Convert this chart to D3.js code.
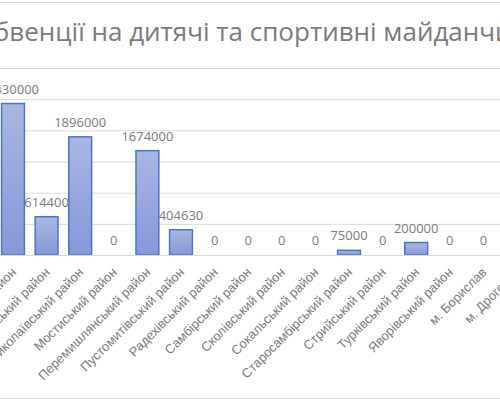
<!DOCTYPE html>
<html>
<head>
<meta charset="utf-8">
<script src="https://cdn.jsdelivr.net/npm/d3@7"></script>
<style>
  html, body { margin: 0; padding: 0; background: #fff; overflow: hidden; }
  svg { display: block; font-family: "Open Sans", sans-serif; }
</style>
</head>
<body>
<svg id="chart"></svg>
<script>
// chart data (the picture is a crop, so first/last categories run off the edges)
const districts = [
  "Жовківський район", "Золочівський район", "Миколаївський район", "Мостиський район",
  "Перемишлянський район", "Пустомитівський район", "Радехівський район", "Самбірський район",
  "Сколівський район", "Сокальський район", "Старосамбірський район", "Стрийський район",
  "Турківський район", "Яворівський район", "м. Борислав", "м. Дрогобич"
];
const amounts = [2430000, 614400, 1896000, 0, 1674000, 404630, 0, 0, 0, 0, 75000, 0, 200000, 0, 0, 0];
const yTicks = [0, 500000, 1000000, 1500000, 2000000, 2500000, 3000000];
const chartTitle = "Субвенції на дитячі та спортивні майданчики";

const data = districts.map((d, i) => ({ key: d, value: amounts[i] }));

const width = 500, height = 400;
const svg = d3.select('#chart')
  .attr('width', width)
  .attr('height', height);

// outer chart border (only top and bottom edges are visible in the crop)
svg.append('line').attr('x1', 0).attr('x2', width).attr('y1', 2.5).attr('y2', 2.5)
  .attr('stroke', '#d9d9d9').attr('stroke-width', 1);
svg.append('line').attr('x1', 0).attr('x2', width).attr('y1', 398.5).attr('y2', 398.5)
  .attr('stroke', '#d9d9d9').attr('stroke-width', 1);

svg.append('text')
  .attr('x', 253)
  .attr('y', 41)
  .attr('text-anchor', 'middle')
  .attr('font-size', '26px')
  .attr('fill', '#7a7a7a')
  .text(chartTitle);

const plotLeft = -3.8, plotRight = 533.8;

const xScale = d3.scaleBand()
  .domain(districts)
  .range([plotLeft, plotRight])
  .paddingInner(0.32)
  .paddingOuter(0.16);

const yScale = d3.scaleLinear()
  .domain([0, 3000000])
  .range([255, 68]);

// gridlines (value labels of this axis are outside the cropped area)
const yAxis = d3.axisLeft(yScale)
  .tickValues(yTicks)
  .tickSize(-(plotRight - plotLeft))
  .tickFormat(() => '');

const yAxisG = svg.append('g')
  .attr('transform', `translate(${plotLeft},0)`)
  .call(yAxis);
yAxisG.select('.domain').remove();
yAxisG.selectAll('line').attr('stroke', '#d9d9d9').attr('stroke-width', 1);

// bar gradient
const defs = svg.append('defs');
const grad = defs.append('linearGradient')
  .attr('id', 'barFill')
  .attr('x1', 0).attr('y1', 0).attr('x2', 0).attr('y2', 1);
grad.append('stop').attr('offset', '0%').attr('stop-color', '#aab7e2');
grad.append('stop').attr('offset', '100%').attr('stop-color', '#8498d8');

svg.selectAll('.bar')
  .data(data.filter(d => d.value > 0))
  .join('rect')
  .attr('class', 'bar')
  .attr('x', d => xScale(d.key))
  .attr('y', d => yScale(d.value))
  .attr('width', xScale.bandwidth())
  .attr('height', d => yScale(0) - yScale(d.value))
  .attr('fill', 'url(#barFill)')
  .attr('stroke', '#4a74c8')
  .attr('stroke-width', 1.5);

// data labels
svg.selectAll('.val')
  .data(data)
  .join('text')
  .attr('class', 'val')
  .attr('x', d => xScale(d.key) + xScale.bandwidth() / 2)
  .attr('y', d => yScale(d.value) - 10)
  .attr('text-anchor', 'middle')
  .attr('font-size', '13px')
  .attr('fill', '#7a7a7a')
  .text(d => d.value);

// x axis
const xAxis = d3.axisBottom(xScale).tickSize(0).tickSizeOuter(0);
const xAxisG = svg.append('g')
  .attr('transform', `translate(0,${yScale(0)})`)
  .call(xAxis);
xAxisG.select('.domain').attr('stroke', '#d9d9d9');
xAxisG.selectAll('text')
  .attr('font-size', '13px')
  .attr('fill', '#7a7a7a')
  .style('text-anchor', 'end')
  .attr('dx', '0')
  .attr('dy', '0')
  .attr('y', 0)
  .attr('transform', 'translate(4,18) rotate(-45)');
</script>
</body>
</html>
